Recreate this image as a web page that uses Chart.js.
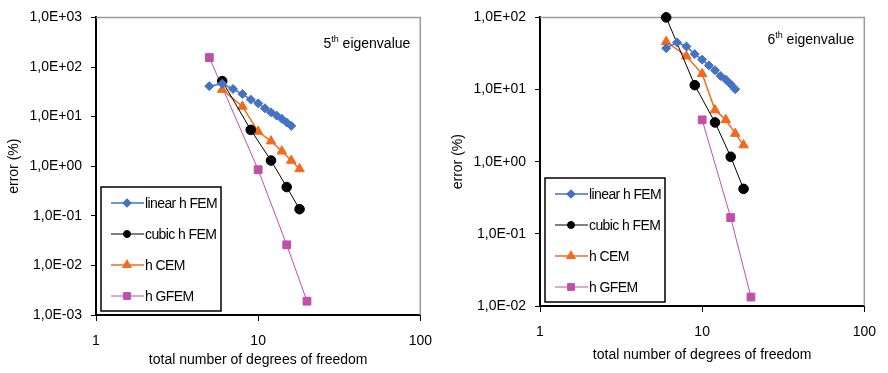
<!DOCTYPE html>
<html>
<head>
<meta charset="utf-8">
<script src="https://cdn.jsdelivr.net/npm/chart.js@4.4.0/dist/chart.umd.min.js"></script>
<style>
  body { margin: 0; background: #fff; }
  .wrap { position: absolute; top: 0; width: 444px; height: 373px; }
</style>
</head>
<body>
<div class="wrap" style="left:0"><canvas id="chart5" width="444" height="373"></canvas></div>
<div class="wrap" style="left:444px"><canvas id="chart6" width="444" height="373"></canvas></div>
<script>
// series names
const seriesNames = ["linear h FEM", "cubic h FEM", "h CEM", "h GFEM"];

// 5th eigenvalue (left)
const x5Linear = [5, 6, 7, 8, 9, 10, 11, 12, 13, 14, 15, 16];
const e5Linear = [41, 46, 36, 28.5, 22, 18.5, 14.7, 12.2, 10.5, 9.0, 7.6, 6.5];
const x5Cubic = [6, 9, 12, 15, 18];
const e5Cubic = [52, 5.4, 1.3, 0.38, 0.136];
const x5Cem = [6, 8, 10, 12, 14, 16, 18];
const e5Cem = [35, 16, 5.0, 3.2, 2.0, 1.3, 0.88];
const x5Gfem = [5, 10, 15, 20];
const e5Gfem = [155, 0.85, 0.026, 0.0019];

// 6th eigenvalue (right)
const x6Linear = [6, 7, 8, 9, 10, 11, 12, 13, 14, 15, 16];
const e6Linear = [37.5, 45, 39.5, 31, 26, 21.6, 18.5, 15.4, 13.7, 11.8, 10.1];
const x6Cubic = [6, 9, 12, 15, 18];
const e6Cubic = [100, 11.5, 3.5, 1.17, 0.42];
const x6Cem = [6, 8, 10, 12, 14, 16, 18];
const e6Cem = [46, 29, 16.5, 5.2, 3.8, 2.45, 1.7];
const x6Gfem = [10, 15, 20];
const e6Gfem = [3.8, 0.168, 0.0133];

// ticks
const xTicks = [1, 10, 100];
const xLabels = ["1", "10", "100"];
const y5Ticks = [0.001, 0.01, 0.1, 1, 10, 100, 1000];
const y5Labels = ["1,0E-03", "1,0E-02", "1,0E-01", "1,0E+00", "1,0E+01", "1,0E+02", "1,0E+03"];
const y6Ticks = [0.01, 0.1, 1, 10, 100];
const y6Labels = ["1,0E-02", "1,0E-01", "1,0E+00", "1,0E+01", "1,0E+02"];

const FONT = "'Liberation Sans', Arial, sans-serif";
const styles = [
  { color: "#4472C4", pointStyle: "rectRot", radius: 4.5, legendRadius: 3.8, width: 1.5 },
  { color: "#000000", pointStyle: "circle", radius: 4.8, legendRadius: 3.5, width: 1 },
  { color: "#F26B1D", pointStyle: "triangle", radius: 5.5, legendRadius: 4.5, width: 1.5 },
  { color: "#C04FAA", pointStyle: "rect", radius: 5.5, legendRadius: 4.8, width: 1 }
];

function pts(xs, ys) {
  return xs.map(function (x, i) { return { x: x, y: ys[i] }; });
}

// gray top/right frame + boxed legend + eigenvalue note
const decorPlugin = {
  id: "decor",
  beforeDatasetsDraw(chart) {
    const a = chart.chartArea, ctx = chart.ctx;
    ctx.save();
    ctx.strokeStyle = "#9a9a9a";
    ctx.lineWidth = 1.5;
    ctx.beginPath();
    ctx.moveTo(a.left, a.top);
    ctx.lineTo(a.right, a.top);
    ctx.lineTo(a.right, a.bottom);
    ctx.stroke();
    ctx.restore();
  },
  afterDraw(chart, args, opts) {
    const a = chart.chartArea, ctx = chart.ctx;
    ctx.save();
    // legend box
    const bx = a.left + 5, bw = 120, bh = 124, by = a.bottom - 4 - bh;
    ctx.fillStyle = "#fff";
    ctx.fillRect(bx, by, bw, bh);
    ctx.strokeStyle = "#000";
    ctx.lineWidth = 1.5;
    ctx.strokeRect(bx, by, bw, bh);
    ctx.font = "14px " + FONT;
    if ("letterSpacing" in ctx) ctx.letterSpacing = "-0.6px";
    ctx.textBaseline = "middle";
    chart.data.datasets.forEach(function (ds, i) {
      const y = by + 16 + i * 31;
      ctx.strokeStyle = ds.borderColor;
      ctx.lineWidth = ds.borderWidth;
      ctx.beginPath();
      ctx.moveTo(bx + 10, y);
      ctx.lineTo(bx + 43, y);
      ctx.stroke();
      ctx.fillStyle = ds.pointBackgroundColor;
      ctx.strokeStyle = ds.pointBorderColor;
      Chart.helpers.drawPoint(ctx, { pointStyle: ds.pointStyle, radius: styles[i].legendRadius, rotation: 0, borderWidth: 1 }, bx + 26, y);
      ctx.fillStyle = "#000";
      ctx.fillText(ds.label, bx + 44, y + 1);
    });
    if ("letterSpacing" in ctx) ctx.letterSpacing = "0px";
    // note with superscript
    const big = "14px " + FONT, small = "9px " + FONT;
    ctx.font = big;
    const w1 = ctx.measureText(opts.num).width;
    const w3 = ctx.measureText(" eigenvalue").width;
    ctx.font = small;
    const w2 = ctx.measureText("th").width;
    let x = a.right - 10 - (w1 + w2 + w3);
    const y = a.top + opts.dy;
    ctx.textBaseline = "alphabetic";
    ctx.fillStyle = "#000";
    ctx.font = big;
    ctx.fillText(opts.num, x, y);
    x += w1;
    ctx.font = small;
    ctx.fillText("th", x, y - 6);
    x += w2;
    ctx.font = big;
    ctx.fillText(" eigenvalue", x, y);
    ctx.restore();
  }
};

function makeChart(id, sets, yTicks, yLabels, yMin, yMax, xHeight, titleBottom, padRight, num, dy) {
  const datasets = sets.map(function (s, i) {
    const st = styles[i];
    return {
      label: seriesNames[i],
      data: pts(s[0], s[1]),
      borderColor: st.color,
      backgroundColor: st.color,
      pointBackgroundColor: st.color,
      pointBorderColor: st.color,
      pointStyle: st.pointStyle,
      pointRadius: st.radius,
      pointBorderWidth: 1,
      borderWidth: st.width,
      tension: 0,
      fill: false,
      clip: false
    };
  });
  return new Chart(document.getElementById(id), {
    type: "line",
    data: { datasets: datasets },
    options: {
      responsive: false,
      animation: false,
      layout: { padding: { left: 4, top: 15, right: padRight, bottom: 0 } },
      plugins: {
        legend: { display: false },
        tooltip: { enabled: false },
        decor: { num: num, dy: dy }
      },
      scales: {
        x: {
          type: "logarithmic",
          min: 1,
          max: 100,
          afterBuildTicks: function (s) { s.ticks = xTicks.map(function (v) { return { value: v }; }); },
          afterFit: function (s) { s.height = xHeight; },
          ticks: {
            autoSkip: false,
            maxRotation: 0,
            padding: 12,
            color: "#000",
            font: { family: FONT, size: 14 },
            callback: function (v, i) { return xLabels[i]; }
          },
          grid: { drawOnChartArea: false, drawTicks: true, tickLength: 6, color: "#000", lineWidth: 1 },
          border: { display: true, color: "#000", width: 2 },
          title: {
            display: true,
            text: "total number of degrees of freedom",
            color: "#000",
            font: { family: FONT, size: 14 },
            padding: { top: 0, bottom: titleBottom }
          }
        },
        y: {
          type: "logarithmic",
          min: yMin,
          max: yMax,
          afterBuildTicks: function (s) { s.ticks = yTicks.map(function (v) { return { value: v }; }); },
          afterFit: function (s) { s.width = 92; },
          ticks: {
            autoSkip: false,
            padding: 9,
            color: "#000",
            font: { family: FONT, size: 14 },
            callback: function (v, i) { return yLabels[i]; }
          },
          grid: { drawOnChartArea: false, drawTicks: true, tickLength: 5, color: "#000", lineWidth: 1 },
          border: { display: true, color: "#000", width: 2 },
          title: {
            display: true,
            text: "error (%)",
            color: "#000",
            font: { family: FONT, size: 14 },
            padding: { top: 2, bottom: 0 }
          }
        }
      }
    },
    plugins: [decorPlugin]
  });
}

makeChart("chart5",
  [[x5Linear, e5Linear], [x5Cubic, e5Cubic], [x5Cem, e5Cem], [x5Gfem, e5Gfem]],
  y5Ticks, y5Labels, 0.001, 1000, 58, 4, 21, "5", 31);

makeChart("chart6",
  [[x6Linear, e6Linear], [x6Cubic, e6Cubic], [x6Cem, e6Cem], [x6Gfem, e6Gfem]],
  y6Ticks, y6Labels, 0.01, 100, 67, 9, 16, "6", 27);
</script>
</body>
</html>
